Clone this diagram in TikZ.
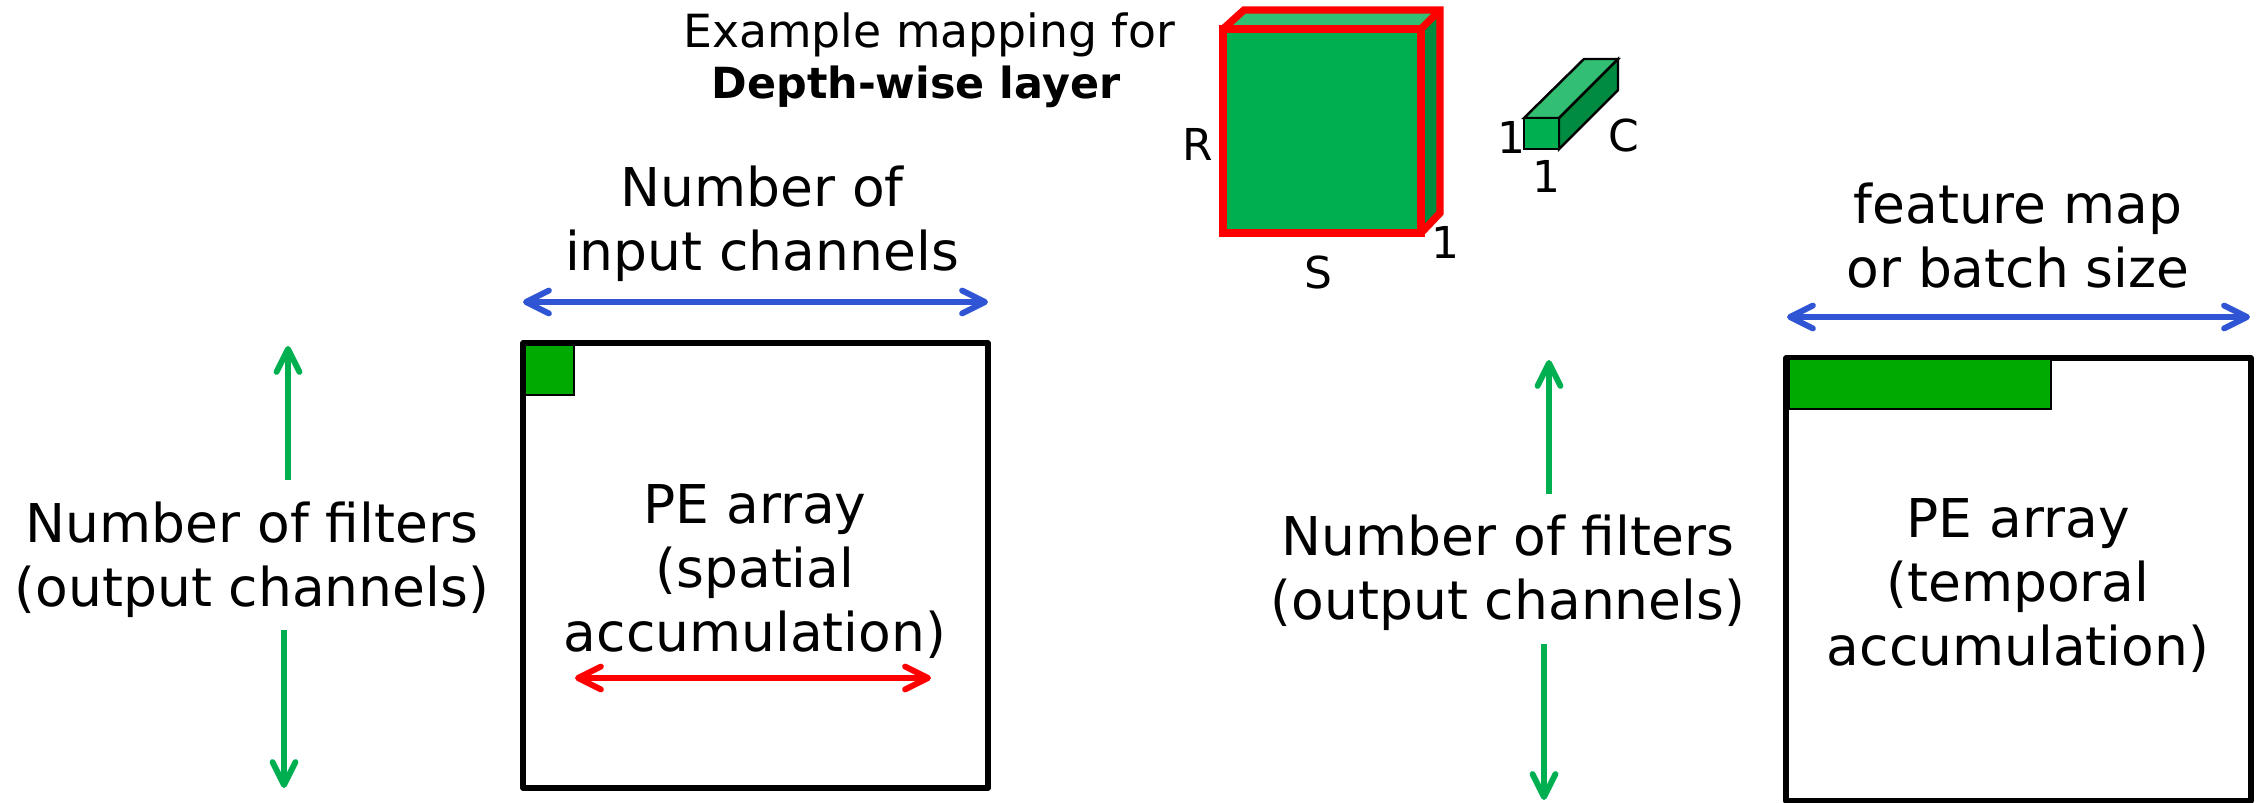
\documentclass[tikz,border=0pt]{standalone}
\usepackage{fontspec}
\setmainfont{DejaVu Sans}
\usetikzlibrary{arrows.meta}
\definecolor{arrayGreen}{HTML}{00AA00}
\definecolor{cubeFront}{HTML}{00AF50}
\definecolor{cubeTop}{HTML}{33BF73}
\definecolor{cubeSide}{HTML}{008C40}
\definecolor{arrowGreen}{HTML}{00B050}
\definecolor{arrowBlue}{HTML}{2F55D4}
\tikzset{
	barb/.tip={Straight Barb[round,length=6.5pt,width=6.5pt]},
	span/.style={line width=1.7pt,
		preaction={draw=black, opacity=0.15, transform canvas={shift={(0.02,-0.04)}}}},
	label/.style={font=\fontsize{15.2}{18.2}\selectfont, align=center, inner sep=0pt},
	dim/.style={font=\fontsize{12.5}{15}\selectfont, inner sep=0pt},
	array/.style={draw=black, line width=1.5pt, line join=round},
	block/.style={draw=black, line width=0.7pt, line join=miter},
}
\begin{document}
\begin{tikzpicture}[x=0.01cm,y=-0.01cm]
				\useasboundingbox (0,0) rectangle (2259,803);
				
				% left array
				\draw[array] (523,343) rectangle (988,788);
				\draw[block, fill=arrayGreen] (525,345) rectangle (574,395);
				\node[label] (leftArray) at (755,572) {PE array\\(spatial\\accumulation)};
				\coordinate (redL) at (575,678);
				\coordinate (redR) at (931,678);
				\draw[span, red, barb-barb] (redL) -- (redR);
				
				\node[label] (inputCh) at (762,224) {Number of\\input channels};
				\coordinate (blueAL) at (523,302);
				\coordinate (blueAR) at (988,302);
				\draw[span, arrowBlue, barb-barb] (blueAL) -- (blueAR);
				
				\node[label] (filtersA) at (252,560) {Number of filters\\(output channels)};
				\coordinate (upAT) at (288,346);
				\coordinate (upAB) at (288,480);
				\coordinate (downAT) at (284,630);
				\coordinate (downAB) at (284,788);
				\draw[span, arrowGreen, barb-] (upAT) -- (upAB);
				\draw[span, arrowGreen, -barb] (downAT) -- (downAB);
				
				% mapping example
				\node[font=\fontsize{13}{15}\selectfont, inner sep=0pt] (exampleA) at (929,35) {Example mapping for};
				\node[font=\fontsize{12.2}{15}\selectfont\bfseries, inner sep=0pt] (exampleB) at (916,87) {Depth-wise layer};
				
				\filldraw[cubeTop] (1223,29) -- (1244,10) -- (1440,10) -- (1421,29) -- cycle;
				\filldraw[cubeSide] (1421,29) -- (1440,10) -- (1440,213) -- (1421,233) -- cycle;
				\draw[draw=red, fill=cubeFront, line width=2.1pt, line join=miter] (1223,29) rectangle (1421,233);
				\draw[red, line width=2.1pt, line join=miter] (1223,29) -- (1244,10) -- (1440,10) -- (1440,213) -- (1421,233) (1421,29) -- (1440,10);
				\node[dim] (dimR) at (1198,144) {R};
				\node[dim] (dimS) at (1318,272) {S};
				\node[dim] (dimOne) at (1445,242) {1};
				
				\draw[block, fill=cubeTop] (1524,118) -- (1584,59) -- (1618,59) -- (1559,118) -- cycle;
				\draw[block, fill=cubeSide] (1559,118) -- (1618,59) -- (1618,90) -- (1559,149) -- cycle;
				\draw[block, fill=cubeFront] (1524,118) rectangle (1559,149);
				\node[dim] (oneL) at (1511,137) {1};
				\node[dim] (oneB) at (1546,176) {1};
				\node[dim] (dimC) at (1624,135) {C};
				
				% right array
				\draw[array] (1786,358) rectangle (2251,801);
				\draw[block, fill=arrayGreen] (1789,359) rectangle (2051,409);
				\node[label] (rightArray) at (2018,586) {PE array\\(temporal\\accumulation)};
				
				\node[label] (featureMap) at (2018,236) {feature map\\or batch size};
				\coordinate (blueBL) at (1787,317);
				\coordinate (blueBR) at (2250,317);
				\draw[span, arrowBlue, barb-barb] (blueBL) -- (blueBR);
				
				\node[label] (filtersB) at (1508,573) {Number of filters\\(output channels)};
				\coordinate (upBT) at (1549,360);
				\coordinate (upBB) at (1549,494);
				\coordinate (downBT) at (1544,644);
				\coordinate (downBB) at (1544,800);
				\draw[span, arrowGreen, barb-] (upBT) -- (upBB);
				\draw[span, arrowGreen, -barb] (downBT) -- (downBB);
\end{tikzpicture}
\end{document}
